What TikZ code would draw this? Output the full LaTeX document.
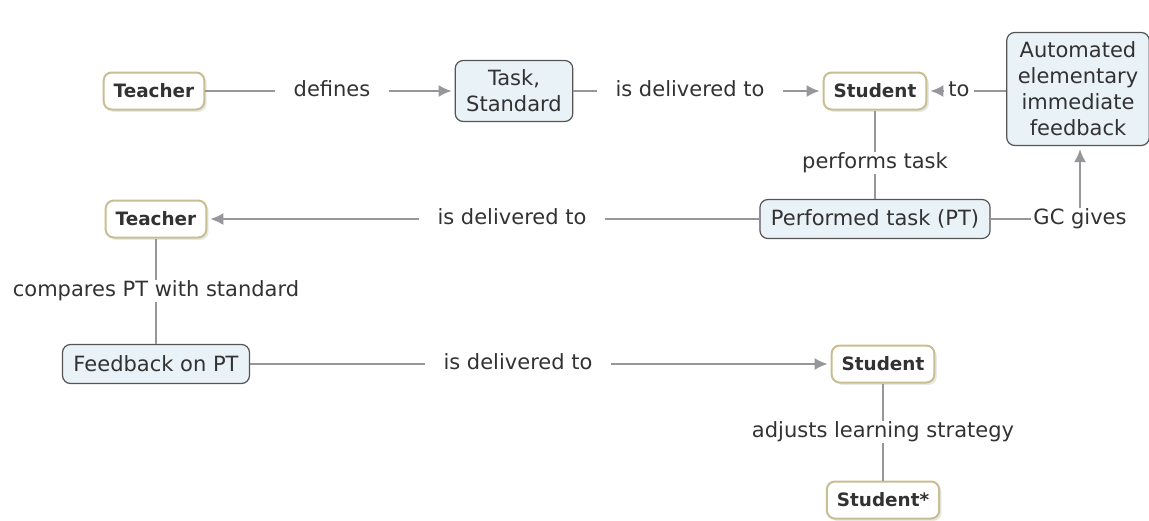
\documentclass[tikz,border=0pt]{standalone}
\usepackage{fontspec}
\setmainfont{DejaVu Sans}
\usetikzlibrary{arrows.meta,shadows}
\definecolor{connline}{RGB}{150,150,155}
\definecolor{cmaptext}{RGB}{50,50,50}
\definecolor{personborder}{RGB}{200,190,145}
\definecolor{thingfill}{RGB}{233,242,246}
\definecolor{thingborder}{RGB}{85,85,85}
\begin{document}
\begin{tikzpicture}[x=0.5pt,y=-0.5pt,
    every node/.style={text=cmaptext, font=\fontsize{10.5}{13}\selectfont},
    person/.style={draw=personborder, line width=1pt, fill=white, rounded corners=4pt,
        font=\fontsize{9.2}{10}\selectfont\bfseries, inner xsep=5pt, minimum height=18.5pt,
        drop shadow={shadow xshift=1.2pt, shadow yshift=-1.2pt, fill=black!18}},
    thing/.style={draw=thingborder, line width=0.6pt, fill=thingfill, rounded corners=4pt,
        align=center, inner xsep=5.5pt, minimum height=19.5pt},
    phrase/.style={inner xsep=9pt, inner ysep=0.5pt, text height=0.75em, text depth=0.25em},
    conn/.style={draw=connline, line width=1pt},
    connarrow/.style={conn, -{Latex[length=6.5pt,width=6pt]}, shorten >=1.5pt}]
    \useasboundingbox (0,0) rectangle (1149,520);

    % first row
    \node[person] (t1) at (154,91) {Teacher};
    \node[phrase] (def) at (332,91) {defines};
    \node[thing, minimum height=30.5pt] (task) at (514,91) {Task,\\Standard};
    \node[phrase] (del1) at (690,91) {is delivered to};
    \node[person] (s1) at (875,91) {Student};
    \node[phrase, inner xsep=2pt] (to) at (959,91) {to};
    \node[thing, minimum width=65.5pt, minimum height=56.5pt] (auto) at (1078,89)
        {Automated\\elementary\\immediate\\feedback};

    % second row
    \node[phrase] (perf) at (875,163) {performs task};
    \node[thing] (pt) at (875,219) {Performed task (PT)};
    \node[phrase, inner xsep=1pt] (gc) at (1080,219) {GC gives};
    \node[phrase] (del2) at (512,219) {is delivered to};
    \node[person] (t2) at (156,219) {Teacher};

    % third row
    \node[phrase] (cmp) at (156,291) {compares PT with standard};
    \node[thing] (fb) at (156,364) {Feedback on PT};
    \node[phrase] (del3) at (518,364) {is delivered to};
    \node[person] (s2) at (883,364) {Student};
    \node[phrase] (adj) at (883,432) {adjusts learning strategy};
    \node[person] (s3) at (883,500) {Student*};

    \draw[conn] (t1) -- (def);
    \draw[connarrow] (def) -- (task);
    \draw[conn] (task) -- (del1);
    \draw[connarrow] (del1) -- (s1);
    \draw[conn] (auto.west |- to) -- (to);
    \draw[connarrow] (to) -- (s1);
    \draw[conn] (s1) -- (perf);
    \draw[conn] (perf) -- (pt);
    \draw[conn] (pt) -- (gc);
    \draw[connarrow] (gc.north) -- (gc.north |- auto.south);
    \draw[conn] (pt) -- (del2);
    \draw[connarrow] (del2) -- (t2);
    \draw[conn] (t2) -- (cmp);
    \draw[conn] (cmp) -- (fb);
    \draw[conn] (fb) -- (del3);
    \draw[connarrow] (del3) -- (s2);
    \draw[conn] (s2) -- (adj);
    \draw[conn] (adj) -- (s3);
\end{tikzpicture}
\end{document}
